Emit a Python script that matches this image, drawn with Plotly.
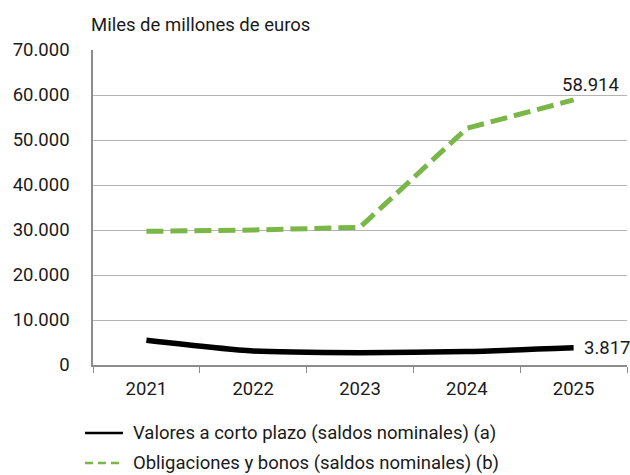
import plotly.graph_objects as go

years = [2021, 2022, 2023, 2024, 2025]
corto_plazo = [5500, 3100, 2750, 3000, 3817]
obligaciones = [29700, 30000, 30600, 52600, 58914]
y_ticks = [0, 10000, 20000, 30000, 40000, 50000, 60000, 70000]
y_tick_text = ["0", "10.000", "20.000", "30.000", "40.000", "50.000", "60.000", "70.000"]
name_a = "Valores a corto plazo (saldos nominales) (a)"
name_b = "Obligaciones y bonos (saldos nominales) (b)"
unit_label = "Miles de millones de euros"

BLACK = "#000000"
GREEN = "#7ab648"
FONT = "Roboto, Arial, sans-serif"
FS = 18.5
TXT = "#1a1a1a"

fig = go.Figure()
fig.add_trace(go.Scatter(x=years, y=corto_plazo, mode="lines", name=name_a,
                         line=dict(color=BLACK, width=5.5, shape="spline", smoothing=0.6),
                         showlegend=False))
fig.add_trace(go.Scatter(x=years, y=obligaciones, mode="lines", name=name_b,
                         line=dict(color=GREEN, width=5, dash="17px,7px"),
                         showlegend=False))

# end labels
fig.add_annotation(x=years[-1], y=obligaciones[-1], text=f"{obligaciones[-1]:,}".replace(",", "."),
                   showarrow=False, yanchor="bottom", yshift=2, xshift=17,
                   font=dict(size=FS, color=TXT))
fig.add_annotation(x=years[-1], y=corto_plazo[-1], text=f"{corto_plazo[-1]:,}".replace(",", "."),
                   showarrow=False, xanchor="left", xshift=8,
                   font=dict(size=FS, color=TXT))

# unit label
fig.add_annotation(xref="paper", yref="paper", x=0, y=1, xanchor="left", yanchor="bottom",
                   yshift=12, xshift=-4, text=unit_label, showarrow=False,
                   font=dict(size=FS, color=TXT))

# manual legend
legend_items = [(name_a, BLACK, "solid", 433), (name_b, GREEN, "8px,5px", 463)]
for txt, col, dash, ypix in legend_items:
    fig.add_shape(type="line", xref="paper", yref="paper",
                  x0=(85 - 93) / 534, x1=(123 - 93) / 534,
                  y0=(365 - ypix) / 315, y1=(365 - ypix) / 315,
                  line=dict(color=col, width=2.5, dash=dash))
    fig.add_annotation(xref="paper", yref="paper", x=(131 - 93) / 534, y=(365 - ypix) / 315,
                       xanchor="left", yanchor="middle", text=txt, showarrow=False,
                       font=dict(size=FS, color=TXT))

fig.update_layout(
    width=630, height=475,
    margin=dict(l=93, r=3, t=50, b=110),
    paper_bgcolor="white", plot_bgcolor="white",
    font=dict(family=FONT, size=FS, color=TXT),
    showlegend=False,
)
fig.update_xaxes(range=[2020.5, 2025.5], tickvals=years, ticktext=[str(y) for y in years],
                 showgrid=False, showline=True, linecolor="#8c8c8c", linewidth=1.5,
                 ticks="", ticklabelstandoff=6,
                 minor=dict(ticks="outside", tick0=2020.5, dtick=1, ticklen=6,
                            tickcolor="#8c8c8c", showgrid=False),
                 tickfont=dict(size=FS, color=TXT), zeroline=False)
fig.update_yaxes(range=[0, 70000], tickvals=y_ticks, ticktext=y_tick_text,
                 showgrid=True, gridcolor="#b4b4b4", gridwidth=1,
                 showline=True, linecolor="#8c8c8c", linewidth=1.5,
                 ticks="", ticklabelstandoff=18,
                 tickfont=dict(size=FS, color=TXT), zeroline=False)

fig.write_html("out.html", config={"displayModeBar": False},
               post_script="document.body.style.margin='0';")
